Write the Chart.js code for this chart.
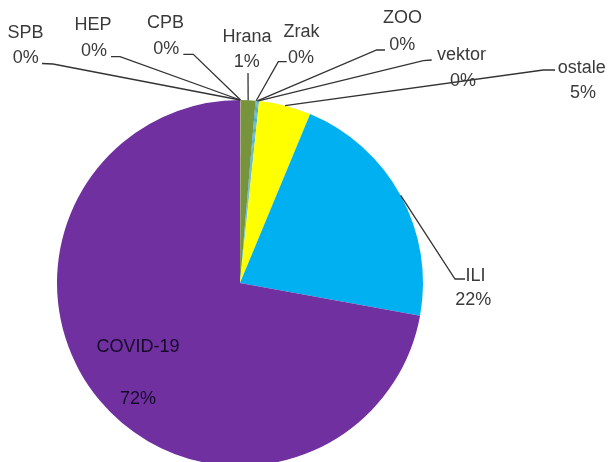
<!DOCTYPE html>
<html><head><meta charset="utf-8">
<script src="https://cdn.jsdelivr.net/npm/chart.js@4"></script>
<style>html,body{margin:0;padding:0;background:#fff;overflow:hidden}#wrap{width:608px;height:462px;position:relative}</style>
</head><body><div id="wrap"><canvas id="c" width="608" height="462"></canvas></div>
<script>
// ---- data ----
const categories = ['SPB','HEP','CPB','Hrana','Zrak','ZOO','vektor','ostale','ILI','COVID-19'];
const shares = [0.02, 0.02, 0.02, 1.3, 0.1, 0.1, 0.1, 4.6, 21.6, 72.16];
const sliceColors = ['#4F81BD','#C0504D','#9BBB59','#77933C','#4BACC6','#4BACC6','#4BACC6','#FFFF00','#00B0F0','#7030A0'];

// ---- label layout (positions only) ----
const labelLayout = [
  {nx:25.5, ny:32,  px:25.8, py:57,  line:[[42,63.5],[53,64]]},
  {nx:93,   ny:24,  px:94,   py:50,  line:[[111,56.7],[120,56.7]]},
  {nx:165.5,ny:21.7,px:166.3,py:47.5,line:[[183.3,54.3],[193.3,54.3]]},
  {nx:247,  ny:35.5,px:246.7,py:61,  line:[[248,73]]},
  {nx:301.5,ny:31,  px:301,  py:57,  line:[[286.7,61.7],[278.3,61.7]]},
  {nx:402.5,ny:16.7,px:402.3,py:43.3,line:[[385,50],[376.7,50]]},
  {nx:461.5,ny:53.3,px:463,  py:80,  line:[[431.7,60],[423.3,60.7]]},
  {nx:581.7,ny:66.7,px:583,  py:91.7,line:[[555,70],[543.3,70]]},
  {nx:475.5,ny:275, px:473.3,py:299, line:[[465,279],[455,279]]},
  {nx:138,  ny:346, px:138,  py:398, line:null, inside:true}
];

const FONT_PX = 18;
const labelPlugin = {
  id: 'excelLabels',
  afterDatasetsDraw(chart) {
    const ctx = chart.ctx;
    const meta = chart.getDatasetMeta(0);
    const total = shares.reduce((a,b)=>a+b,0);
    ctx.save();
    ctx.strokeStyle = '#333333';
    ctx.lineWidth = 1.3;
    meta.data.forEach((arc, i) => {
      const L = labelLayout[i];
      if (!L.line) return;
      const p = arc.getProps(['x','y','startAngle','endAngle','outerRadius'], true);
      const mid = (p.startAngle + p.endAngle) / 2;
      const ex = p.x + Math.cos(mid) * p.outerRadius;
      const ey = p.y + Math.sin(mid) * p.outerRadius;
      ctx.beginPath();
      ctx.moveTo(L.line[0][0], L.line[0][1]);
      for (let k = 1; k < L.line.length; k++) ctx.lineTo(L.line[k][0], L.line[k][1]);
      ctx.lineTo(ex, ey);
      ctx.stroke();
    });
    ctx.font = FONT_PX + 'px "Liberation Sans", Arial, sans-serif';
    ctx.textAlign = 'center';
    ctx.textBaseline = 'alphabetic';
    const capHalf = FONT_PX * 0.716 / 2;
    categories.forEach((name, i) => {
      const L = labelLayout[i];
      const pct = Math.round(shares[i] / total * 100) + '%';
      ctx.fillStyle = L.inside ? '#140a28' : '#3a3a3a';
      ctx.fillText(name, L.nx, L.ny + capHalf);
      ctx.fillText(pct, L.px, L.py + capHalf);
    });
    ctx.restore();
  }
};

const bgPlugin = {
  id: 'bg',
  beforeDraw(chart) {
    const c = chart.ctx;
    c.save(); c.fillStyle = '#fff'; c.fillRect(0,0,chart.width,chart.height); c.restore();
  }
};

new Chart(document.getElementById('c'), {
  type: 'pie',
  data: {
    labels: categories,
    datasets: [{
      data: shares,
      backgroundColor: sliceColors,
      borderWidth: 0,
      radius: 183
    }]
  },
  options: {
    responsive: false,
    animation: false,
    layout: { padding: { left: 0, right: 128, top: 104, bottom: 0 } },
    plugins: { legend: { display: false }, tooltip: { enabled: false } }
  },
  plugins: [bgPlugin, labelPlugin]
});
</script>
</body></html>
